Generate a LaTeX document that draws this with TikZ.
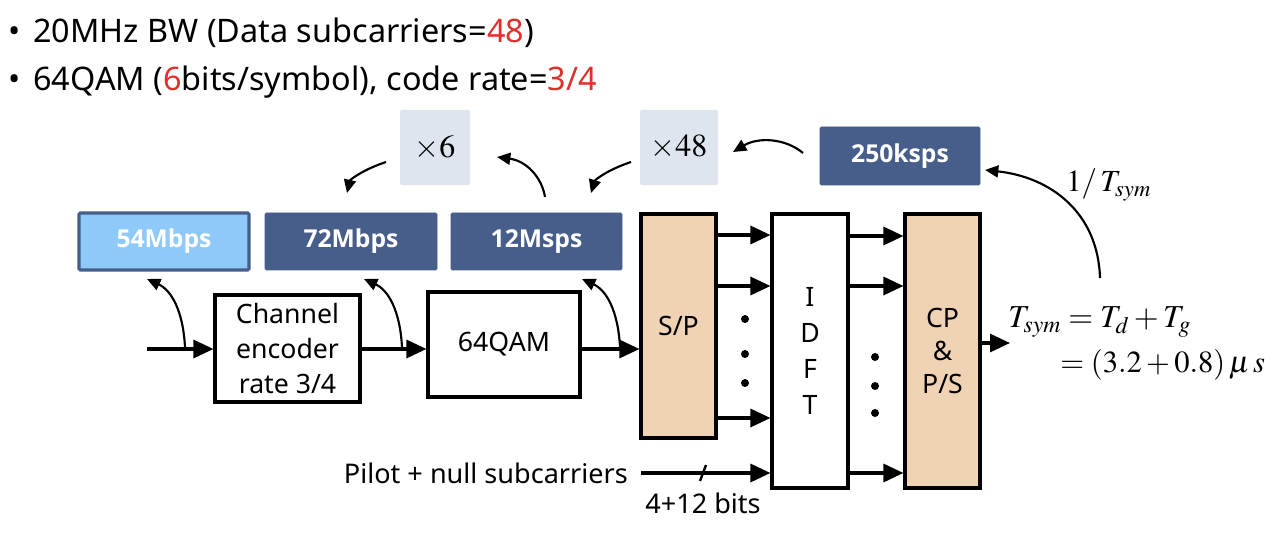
\documentclass[tikz,border=0pt]{standalone}
\usepackage{mathptmx}
\usepackage[no-math]{fontspec}
\setmainfont{Noto Sans}
\newfontfamily\lblbold{Open Sans}
\usetikzlibrary{arrows.meta}
\definecolor{dkblue}{RGB}{71,93,138}
\definecolor{ltgray}{RGB}{223,229,239}
\definecolor{ltblue}{RGB}{143,201,249}
\definecolor{tan}{RGB}{240,211,181}
\definecolor{redt}{RGB}{224,48,42}
\tikzset{
  darkbox/.style={inner sep=0pt, fill=dkblue, draw=dkblue, line width=0.5pt, rounded corners=1pt, text=white, font=\lblbold\bfseries\fontsize{18.5}{22}\selectfont, minimum height=42.75pt},
  graybox/.style={inner sep=0pt, fill=ltgray, rounded corners=1pt, font=\fontsize{24}{28}\selectfont, minimum height=56.25pt},
  blockbox/.style={inner sep=0pt, draw=black, line width=2.3pt, font=\fontsize{20}{26}\selectfont, align=center},
  mainarrow/.style={line width=2.3pt, -{Triangle[length=15pt,width=13.5pt]}},
  carrow/.style={line width=1.6pt, -{Triangle[length=10pt,width=9pt]}},
  lbl/.style={font=\fontsize{20.3}{24}\selectfont, inner sep=0pt},
  dotn/.style={circle, fill=black, inner sep=0pt, minimum size=6pt},
}
\begin{document}
\begin{tikzpicture}[x=0.75pt,y=-0.75pt]
\useasboundingbox (0,0) rectangle (1288,541);
% bullets
\node[anchor=base west, inner sep=0pt, font=\fontsize{24.3}{28}\selectfont] (b1) at (8,43) {•\hspace{0.4em}20MHz BW (Data subcarriers=\textcolor{redt}{48})};
\node[anchor=base west, inner sep=0pt, font=\fontsize{24.3}{28}\selectfont] (b2) at (8,91) {•\hspace{0.4em}64QAM (\textcolor{redt}{6}bits/symbol), code rate=\textcolor{redt}{3/4}};
% top boxes
\node[graybox, minimum width=52.5pt] (x6) at (435,147.5) {$\times 6$};
\node[graybox, minimum width=58.5pt] (x48) at (679,147.5) {$\times 48$};
\node[darkbox, minimum width=120pt, minimum height=43.5pt] (ks) at (900,156) {250ksps};
\node[darkbox, minimum width=127.5pt, fill=ltblue, line width=2.3pt] (m54) at (164,241.5) {54Mbps};
\node[darkbox, minimum width=129pt] (m72) at (351,241.5) {72Mbps};
\node[darkbox, minimum width=128.25pt] (m12) at (536.5,241.5) {12Msps};
% blocks
\node[blockbox, minimum width=108.75pt, minimum height=80.25pt] (enc) at (287.5,348.5) {Channel\\encoder\\rate 3/4};
\node[blockbox, minimum width=114pt, minimum height=78.75pt] (qam) at (504,344.5) {64QAM};
\node[blockbox, minimum width=56.25pt, minimum height=168pt, fill=tan] (sp) at (678.5,326) {S/P};
\node[blockbox, minimum width=57pt, minimum height=205.5pt, font=\fontsize{20}{27}\selectfont] (idft) at (810,351) {I\\D\\F\\T};
\node[blockbox, minimum width=56.25pt, minimum height=205.5pt, fill=tan, font=\fontsize{20}{24.5}\selectfont] (cp) at (942.5,351) {CP\\\&\\P/S};
% main chain
\coordinate (in) at (147,349);
\draw[mainarrow] (in) -- (enc.west |- in);
\draw[mainarrow] (enc.east |- in) -- (qam.west |- in);
\draw[mainarrow] (qam.east |- in) -- (sp.west |- in);
% S/P -> IDFT -> CP
\foreach \y in {235,286,418} {\draw[mainarrow] (sp.east |- 0,\y) -- (idft.west |- 0,\y);}
\foreach \y in {236,286,473} {\draw[mainarrow] (idft.east |- 0,\y) -- (cp.west |- 0,\y);}
\node[dotn] (d1) at (745,319) {};
\node[dotn] (d2) at (745,354) {};
\node[dotn] (d3) at (745,383) {};
\node[dotn] (d4) at (875,357) {};
\node[dotn] (d5) at (875,386) {};
\node[dotn] (d6) at (875,413) {};
% pilot
\node[lbl, anchor=east] (pil) at (628,473) {Pilot + null subcarriers};
\coordinate (pst) at (641,473);
\draw[mainarrow] (pst) -- (idft.west |- pst);
\draw[line width=1.8pt] (700,481) -- (706,465);
\node[lbl] (bits) at (703,503) {4+12 bits};
% output
\coordinate (out) at (1010,343);
\draw[mainarrow] (cp.east |- out) -- (out);
% formulas
\node[anchor=base west, inner sep=0pt, font=\fontsize{24}{28}\selectfont] (f1) at (1008,328) {$T_{sym}=T_d+T_g$};
\node[anchor=base west, inner sep=0pt, font=\fontsize{23}{28}\selectfont] (f2) at (1060,373) {$=(3.2+0.8)\,\mu\,s$};
\node[anchor=base west, inner sep=0pt, font=\fontsize{23}{28}\selectfont] (f3) at (1066,192) {$1/\,T_{sym}$};
% curved arrows
\coordinate (c1s) at (386,162); \coordinate (c1e) at (347,193);
\draw[carrow] (c1s) .. controls (362,170) and (350,180) .. (c1e);
\coordinate (c2s) at (545,197); \coordinate (c2e) at (497,157);
\draw[carrow] (c2s) .. controls (542,178) and (527,161) .. (c2e);
\coordinate (c3s) at (631,162); \coordinate (c3e) at (591,193);
\draw[carrow] (c3s) .. controls (607,170) and (595,180) .. (c3e);
\coordinate (c4s) at (803,153); \coordinate (c4e) at (733,152);
\draw[carrow] (c4s) .. controls (785,138) and (758,137) .. (c4e);
\coordinate (c5s) at (1100,278); \coordinate (c5e) at (985,170);
\draw[carrow] (c5s) .. controls (1098,212) and (1050,177) .. (c5e);
\foreach \xa/\nm in {185/s1,402/s2,620/s3} {
  \coordinate (\nm) at (\xa,347);
  \draw[carrow] (\nm) .. controls (\xa-2,310) and (\xa-14,290) .. (\xa-38,279);
}
\end{tikzpicture}
\end{document}
